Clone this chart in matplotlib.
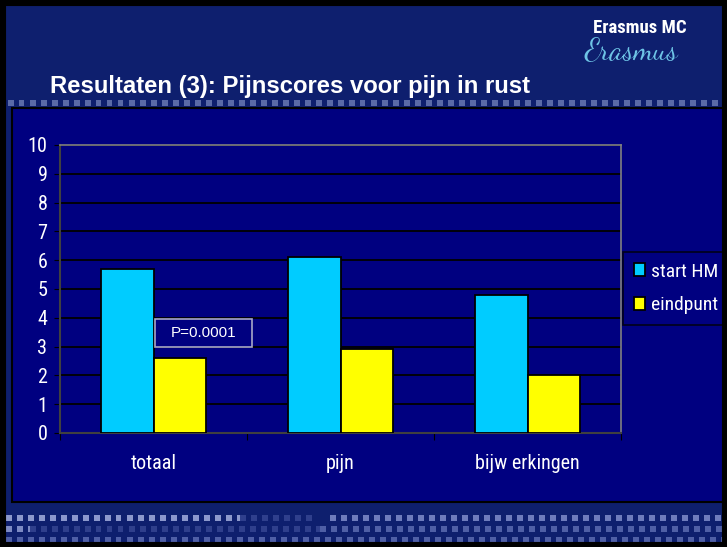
import matplotlib
matplotlib.use("Agg")
import matplotlib.pyplot as plt
from matplotlib.patches import Rectangle
import numpy as np

plt.rcParams['font.family'] = ['Liberation Sans', 'DejaVu Sans']
NARROW = ['Roboto Condensed', 'Liberation Sans', 'DejaVu Sans']
SCRIPT = ['Dancing Script', 'DejaVu Serif']

categories = ["totaal", "pijn", "bijw erkingen"]
series_names = ["start HM", "eindpunt"]
start_hm = [5.7, 6.1, 4.8]
eindpunt = [2.6, 2.9, 2.0]
y_ticks = list(range(0, 11))
annotation = "P=0.0001"
title = "Resultaten (3): Pijnscores voor pijn in rust"

W, H = 727, 547
fig = plt.figure(figsize=(W / 100, H / 100), dpi=100)
fig.patch.set_facecolor("#0E1F6E")

# outer black border
fig.add_artist(Rectangle((0, 0), 1, 1, transform=fig.transFigure, fill=False,
                         edgecolor="black", linewidth=8, zorder=10))

# chart area
fig.add_artist(Rectangle((12 / W, 1 - 502 / H), 1, 394 / H, transform=fig.transFigure,
                         facecolor="#000080", edgecolor="black", linewidth=1.5, zorder=0))

# decorative square rows
def square_row(y_px, x_start, x_end, color, alpha=1.0):
    xs = np.arange(x_start, x_end, 11.0)
    for xx in xs:
        fig.add_artist(Rectangle((xx / W, 1 - (y_px + 2.5) / H), 5.5 / W, 5.5 / H,
                                 transform=fig.transFigure, facecolor=color,
                                 edgecolor="none", alpha=alpha, zorder=1))

square_row(103, 8, 727, "#5A6AA8")
square_row(518, 6, 240, "#8C98CC")
square_row(518, 240, 310, "#2F3F8C")
square_row(518, 330, 727, "#6E7CBC")
square_row(529, 6, 30, "#7D8AC4")
square_row(529, 30, 320, "#2F3F8C")
square_row(529, 320, 727, "#4F5FA6")
square_row(540, 6, 727, "#4F5FA6")

# title and logo
fig.text(50 / W, 1 - 87 / H, title, color="white", fontsize=17.2, fontweight="bold",
         va="center", ha="left")
fig.text(593 / W, 1 - 28 / H, "Erasmus MC", color="white", fontsize=13.5,
         fontweight="bold", va="center", ha="left", family=NARROW)
fig.text(584 / W, 1 - 52 / H, "Erasmus", color="#6EC4E6", fontsize=22,
         va="center", ha="left", family=SCRIPT)

ax = fig.add_axes([60 / W, 1 - 433 / H, 561 / W, 288 / H])
ax.set_facecolor("#000080")
x = np.arange(len(categories))
bw = 0.283
ax.bar(x - bw / 2, start_hm, bw, color="#00CCFF", edgecolor="black", linewidth=1.3,
       label=series_names[0], zorder=3)
ax.bar(x + bw / 2, eindpunt, bw, color="#FFFF00", edgecolor="black", linewidth=1.3,
       label=series_names[1], zorder=3)

ax.set_xlim(-0.5, len(categories) - 0.5)
ax.set_ylim(0, 10)
ax.set_yticks(y_ticks)
ax.set_yticklabels([str(t) for t in y_ticks], color="white", fontsize=14.5, family=NARROW)
ax.yaxis.grid(True, color="black", linewidth=1.3, zorder=1)
ax.set_axisbelow(True)

ax.set_xticks(np.arange(-0.5, len(categories), 1.0))
ax.set_xticklabels([])
ax.set_xticks(x, minor=True)
ax.set_xticklabels(categories, minor=True, color="white", fontsize=14.5, family=NARROW)
ax.tick_params(axis="x", which="minor", length=0, pad=15)
ax.tick_params(axis="x", which="major", length=5, color="black", direction="out")
ax.tick_params(axis="y", length=4, color="black", direction="out", pad=5)

for side in ["top", "right"]:
    ax.spines[side].set_color("#808080")
    ax.spines[side].set_linewidth(1.2)
for side in ["left", "bottom"]:
    ax.spines[side].set_color("#404040")
    ax.spines[side].set_linewidth(1.5)

# annotation box
ax.add_patch(Rectangle((95 / 561, 86 / 288), 97 / 561, 28 / 288, transform=ax.transAxes,
                       facecolor="#000080", edgecolor="#A8A8C8", linewidth=1.2, zorder=5))
ax.text(143.5 / 561, 100 / 288, annotation, color="white", fontsize=11, ha="center",
        va="center", transform=ax.transAxes, zorder=6)

leg = fig.legend(loc="upper left", bbox_to_anchor=(623 / W, 1 - 252 / H),
                 frameon=True, handlelength=0.6, handleheight=0.65,
                 handletextpad=0.3, labelspacing=0.8, borderpad=0.55, fancybox=False,
                 borderaxespad=0, prop={'family': NARROW, 'size': 14})
leg.get_frame().set_facecolor("#000080")
leg.get_frame().set_edgecolor("black")
leg.get_frame().set_linewidth(1.2)
for t in leg.get_texts():
    t.set_color("white")

fig.savefig("out.png", dpi=100, facecolor=fig.get_facecolor())
